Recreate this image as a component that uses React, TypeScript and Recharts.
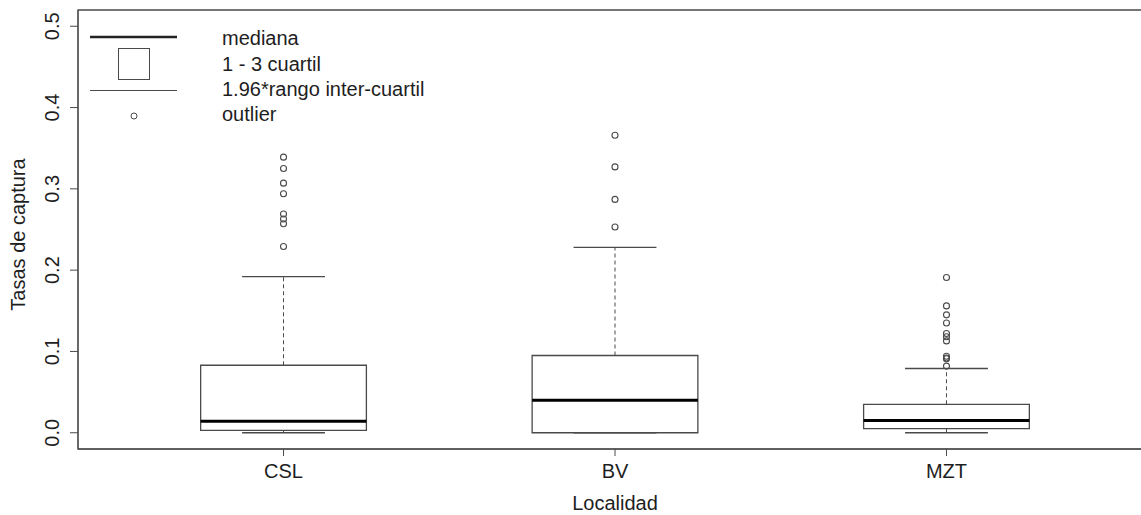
import {
  ComposedChart,
  ReferenceArea,
  ReferenceLine,
  Scatter,
  XAxis,
  YAxis,
} from "recharts";

// Resumen por localidad (cuartiles, bigotes y valores atípicos)
const localidades = ["CSL", "BV", "MZT"];
const cuartil1 = [0.003, 0.0, 0.005];
const medianas = [0.014, 0.04, 0.015];
const cuartil3 = [0.083, 0.095, 0.035];
const bigoteInf = [0.0, 0.0, 0.0];
const bigoteSup = [0.192, 0.228, 0.079];
const atipicosCSL = [0.339, 0.325, 0.307, 0.294, 0.269, 0.263, 0.257, 0.229];
const atipicosBV = [0.366, 0.327, 0.287, 0.253];
const atipicosMZT = [
  0.191, 0.156, 0.145, 0.135, 0.122, 0.118, 0.113, 0.094, 0.092, 0.091, 0.082,
];
const yTicks = [0, 0.1, 0.2, 0.3, 0.4, 0.5];
const leyenda = ["mediana", "1 - 3 cuartil", "1.96*rango inter-cuartil", "outlier"];

const atipicos = [atipicosCSL, atipicosBV, atipicosMZT].flatMap((vals, i) =>
  vals.map((y) => ({ x: i + 1, y })),
);

const LINE = "#4a4a4a";
const TEXT = "#1e1e1e";
const FONT = "'Liberation Sans', Arial, sans-serif";
const FS = 20;
const HALF_BOX = 0.25;
const HALF_CAP = 0.125;

// leyenda al estilo de legend("topleft") de R, superpuesta al gráfico
function LeyendaR() {
  const ys = [38, 64, 89, 114];
  return (
    <svg
      width={500}
      height={130}
      style={{ position: "absolute", left: 0, top: 0, pointerEvents: "none" }}
    >
      <line x1={90} x2={177} y1={37} y2={37} stroke="#222" strokeWidth={2.5} />
      <rect x={118.5} y={48.5} width={31} height={31} fill="none" stroke={LINE} />
      <line x1={90} x2={177} y1={90.5} y2={90.5} stroke={LINE} />
      <circle cx={134} cy={116} r={3} fill="none" stroke={LINE} />
      {leyenda.map((t, i) => (
        <text
          key={t}
          x={222}
          y={ys[i]}
          dominantBaseline="central"
          fontSize={FS}
          fontFamily={FONT}
          fill={TEXT}
        >
          {t}
        </text>
      ))}
    </svg>
  );
}

export default function App() {
  return (
    <div
      style={{
        position: "absolute",
        left: 0,
        top: 0,
        width: 1141,
        height: 515,
        overflow: "hidden",
        background: "#fff",
      }}
    >
      <ComposedChart
        width={1160}
        height={515}
        margin={{ top: 10, right: 8, bottom: 0, left: 0 }}
      >
        <XAxis
          type="number"
          dataKey="x"
          domain={[0.38, 3.62]}
          ticks={[1, 2, 3]}
          tickFormatter={(v: number) => localidades[v - 1]}
          allowDataOverflow
          height={66}
          tickSize={7}
          stroke={LINE}
          tick={{ fill: TEXT, fontSize: FS, fontFamily: FONT, dy: 6 }}
          label={(p: any) => (
            <text
              x={p.viewBox.x + p.viewBox.width / 2}
              y={p.viewBox.y + 54}
              textAnchor="middle"
              dominantBaseline="central"
              fontSize={FS}
              fontFamily={FONT}
              fill={TEXT}
            >
              Localidad
            </text>
          )}
        />
        <YAxis
          type="number"
          dataKey="y"
          domain={[-0.02, 0.52]}
          ticks={yTicks}
          allowDataOverflow
          width={78}
          tickSize={8}
          stroke={LINE}
          tick={(p: any) => (
            <text
              x={52}
              y={p.y}
              transform={`rotate(-90, 52, ${p.y})`}
              textAnchor="middle"
              dominantBaseline="central"
              fontSize={FS}
              fontFamily={FONT}
              fill={TEXT}
            >
              {p.payload.value.toFixed(1)}
            </text>
          )}
          label={(p: any) => {
            const cx = p.viewBox.x + 18;
            const cy = p.viewBox.y + p.viewBox.height / 2 + 5;
            return (
              <text
                x={cx}
                y={cy}
                transform={`rotate(-90, ${cx}, ${cy})`}
                textAnchor="middle"
                dominantBaseline="central"
                fontSize={FS}
                fontFamily={FONT}
                fill={TEXT}
              >
                Tasas de captura
              </text>
            );
          }}
        />

        {/* marco del gráfico */}
        <ReferenceArea
          x1={0.38}
          x2={3.62}
          y1={-0.02}
          y2={0.52}
          fill="none"
          stroke={LINE}
          strokeWidth={1.3}
        />

        {localidades.map((loc, i) => {
          const x = i + 1;
          return [
            <ReferenceLine
              key={`${loc}-bs`}
              segment={[
                { x, y: cuartil3[i] },
                { x, y: bigoteSup[i] },
              ]}
              stroke={LINE}
              strokeDasharray="4 3"
            />,
            <ReferenceLine
              key={`${loc}-bi`}
              segment={[
                { x, y: bigoteInf[i] },
                { x, y: cuartil1[i] },
              ]}
              stroke={LINE}
              strokeDasharray="4 3"
            />,
            <ReferenceLine
              key={`${loc}-cs`}
              segment={[
                { x: x - HALF_CAP, y: bigoteSup[i] },
                { x: x + HALF_CAP, y: bigoteSup[i] },
              ]}
              stroke={LINE}
              strokeWidth={1.3}
            />,
            <ReferenceLine
              key={`${loc}-ci`}
              segment={[
                { x: x - HALF_CAP, y: bigoteInf[i] },
                { x: x + HALF_CAP, y: bigoteInf[i] },
              ]}
              stroke={LINE}
              strokeWidth={1.3}
            />,
            <ReferenceArea
              key={`${loc}-box`}
              x1={x - HALF_BOX}
              x2={x + HALF_BOX}
              y1={cuartil1[i]}
              y2={cuartil3[i]}
              fill="#fff"
              fillOpacity={1}
              stroke={LINE}
              strokeWidth={1.3}
            />,
            <ReferenceLine
              key={`${loc}-med`}
              segment={[
                { x: x - HALF_BOX, y: medianas[i] },
                { x: x + HALF_BOX, y: medianas[i] },
              ]}
              stroke="#000"
              strokeWidth={3}
            />,
          ];
        })}

        <Scatter
          data={atipicos}
          isAnimationActive={false}
          shape={(p: any) => (
            <circle cx={p.cx} cy={p.cy} r={3} fill="none" stroke={LINE} strokeWidth={1.1} />
          )}
        />
      </ComposedChart>
      <LeyendaR />
    </div>
  );
}
